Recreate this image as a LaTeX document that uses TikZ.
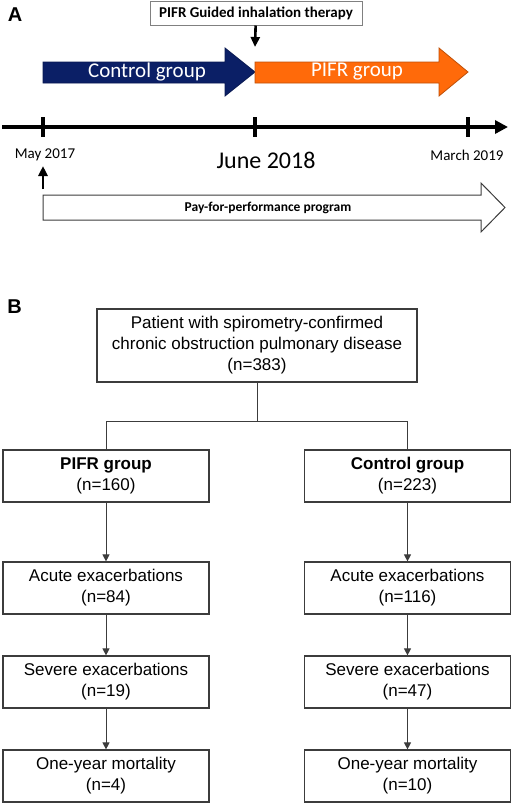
\documentclass[tikz,border=0pt]{standalone}
\usepackage{fontspec}
\setmainfont{Liberation Sans}
\newfontfamily\calibri{Carlito}
\usetikzlibrary{arrows.meta}
\definecolor{ctrlblue}{HTML}{0B1F66}
\definecolor{pifrorange}{HTML}{FF6A0A}
\definecolor{boxgray}{HTML}{3C3C3C}

\begin{document}
\begin{tikzpicture}[x=1pt,y=-1pt,
        flowbox/.style={draw=boxgray, line width=1.2pt, minimum width=206pt,
            minimum height=52pt, align=center, inner sep=0pt,
            font=\fontsize{17}{21}\selectfont},
        flowline/.style={draw=boxgray, line width=1pt},
        flowarrow/.style={flowline, -{Triangle[length=7pt,width=7pt]}},
        pointer/.style={line width=2.6pt, -{Triangle[length=10pt,width=9pt]}},
        datelabel/.style={font=\calibri\fontsize{15}{18}\selectfont}]
        \useasboundingbox (0,0) rectangle (512,804);

        % A: time line
        \node[font=\bfseries\fontsize{20}{24}\selectfont] (labA) at (15,15) {A};
        \node[draw=gray, line width=1pt, minimum width=212pt, minimum height=24pt,
            font=\calibri\bfseries\fontsize{15}{18}\selectfont] (guided) at (256,13)
            {PIFR Guided inhalation therapy};
        \coordinate (switch) at (255,47);
        \draw[pointer] (guided) -- (switch);

        \filldraw[fill=ctrlblue, draw=ctrlblue!80!black, line width=0.8pt]
            (43,62) -- (225,62) -- (225,48) -- (255,72) -- (225,96) -- (225,83) -- (43,83) -- cycle;
        \filldraw[fill=pifrorange, draw=pifrorange!75!black, line width=0.8pt]
            (255,62) -- (439,62) -- (439,48) -- (468,72) -- (439,96) -- (439,83) -- (255,83) -- cycle;
        \node[white, font=\calibri\fontsize{21}{25}\selectfont] (ctrlarrow) at (147,72) {Control group};
        \node[white, font=\calibri\fontsize{21}{25}\selectfont] (pifrarrow) at (357,72) {PIFR group};

        \draw[line width=4pt, -{Triangle[length=13pt,width=13pt]}] (2,127) -- (508,127);
        \foreach \x in {43,255,468}
            \draw[line width=4pt] (\x,117) -- (\x,137);

        \node[datelabel] (may) at (45,155) {May 2017};
        \node[font=\calibri\fontsize{24}{28}\selectfont] (june) at (266,160) {June 2018};
        \node[datelabel] (march) at (467,155) {March 2019};

        \coordinate (pstart) at (43,189);
        \coordinate (pend) at (43,166);
        \draw[pointer] (pstart) -- (pend);

        \filldraw[fill=white, draw=boxgray, line width=1pt]
            (43,195) -- (481,195) -- (481,183) -- (505,207.5) -- (481,232) -- (481,220) -- (43,220) -- cycle;
        \node[font=\calibri\bfseries\fontsize{13.5}{16}\selectfont] (pay) at (268,207.5)
            {Pay-for-performance program};

        % B: flow chart
        \node[font=\bfseries\fontsize{20}{24}\selectfont] (labB) at (14.5,306.5) {B};
        \node[flowbox, minimum width=320pt, minimum height=73pt] (patients) at (257,345.5)
            {Patient with spirometry-confirmed\\chronic obstruction pulmonary disease\\(n=383)};
        \coordinate (split) at (257,421);

        \node[flowbox] (pifr) at (106,476) {\textbf{PIFR group}\\(n=160)};
        \node[flowbox] (pacute) at (106,588) {Acute exacerbations\\(n=84)};
        \node[flowbox] (psevere) at (106,682) {Severe exacerbations\\(n=19)};
        \node[flowbox] (pmort) at (106,776) {One-year mortality\\(n=4)};

        \node[flowbox] (ctrl) at (407.5,476) {\textbf{Control group}\\(n=223)};
        \node[flowbox] (cacute) at (407.5,588) {Acute exacerbations\\(n=116)};
        \node[flowbox] (csevere) at (407.5,682) {Severe exacerbations\\(n=47)};
        \node[flowbox] (cmort) at (407.5,776) {One-year mortality\\(n=10)};

        \draw[flowline] (patients) -- (split);
        \draw[flowline] (split) -| (pifr);
        \draw[flowline] (split) -| (ctrl);
        \foreach \a/\b in {pifr/pacute, pacute/psevere, psevere/pmort,
                ctrl/cacute, cacute/csevere, csevere/cmort}
            \draw[flowarrow] (\a) -- (\b);
    \end{tikzpicture}
\end{document}
